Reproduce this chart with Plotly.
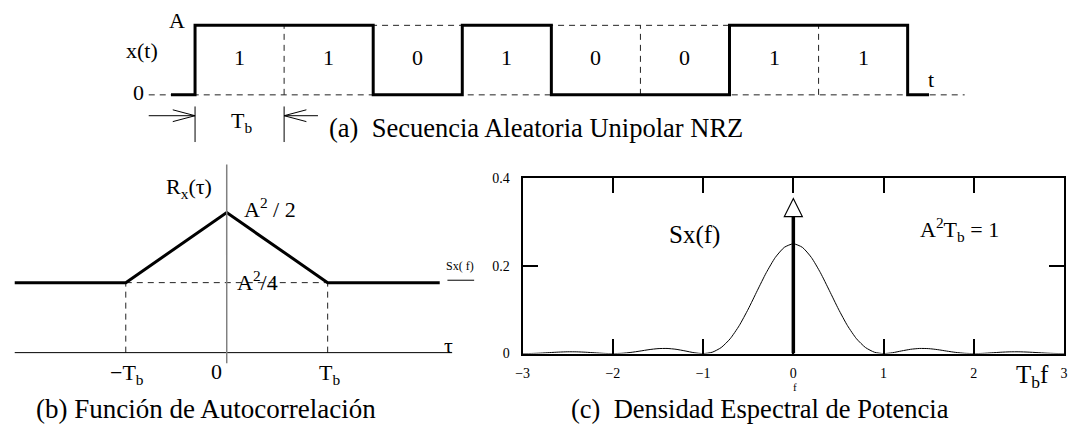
import plotly.graph_objects as go

W, H = 1071, 434
FONT = "Times New Roman, Liberation Serif, serif"

# ---- (a) unipolar NRZ random sequence -------------------------------------
bits = [1, 1, 0, 1, 0, 0, 1, 1]
amp = 1.0                      # level A
t_lead, t_tail = -0.27, 8.24   # flat stretches before / after the bits

# ---- (b) autocorrelation R_x(tau), tau in units of T_b, R in units of A^2 --
tau_pts = [-2.1, -1.0, 0.0, 1.0, 2.11]
r_pts = [0.25, 0.25, 0.5, 0.25, 0.25]

# ---- (c) power spectral density, A^2 T_b = 1 -------------------------------
f_vals = [-3.0, -2.9, -2.8, -2.7, -2.6, -2.5, -2.4, -2.3, -2.2, -2.1,
          -2.0, -1.9, -1.8, -1.7, -1.6, -1.5, -1.4, -1.3, -1.2, -1.1,
          -1.0, -0.9, -0.8, -0.7, -0.6, -0.5, -0.4, -0.3, -0.2, -0.1,
          0.0, 0.1, 0.2, 0.3, 0.4, 0.5, 0.6, 0.7, 0.8, 0.9,
          1.0, 1.1, 1.2, 1.3, 1.4, 1.5, 1.6, 1.7, 1.8, 1.9,
          2.0, 2.1, 2.2, 2.3, 2.4, 2.5, 2.6, 2.7, 2.8, 2.9, 3.0]
s_vals = [0.0, 0.0003, 0.0011, 0.0023, 0.0034, 0.0041, 0.0040, 0.0031, 0.0018, 0.0005,
          0.0, 0.0007, 0.0027, 0.0057, 0.0090, 0.0113, 0.0117, 0.0098, 0.0061, 0.0020,
          0.0, 0.0030, 0.0137, 0.0338, 0.0636, 0.1013, 0.1432, 0.1842, 0.2188, 0.2419,
          0.2500, 0.2419, 0.2188, 0.1842, 0.1432, 0.1013, 0.0636, 0.0338, 0.0137, 0.0030,
          0.0, 0.0020, 0.0061, 0.0098, 0.0117, 0.0113, 0.0090, 0.0057, 0.0027, 0.0007,
          0.0, 0.0005, 0.0018, 0.0031, 0.0040, 0.0041, 0.0034, 0.0023, 0.0011, 0.0003, 0.0]
delta_f = [0.0, 0.0]
delta_s = [0.0, 0.312]
x_ticks = [-3, -2, -1, 0, 1, 2, 3]
x_tick_text = ["\u22123", "\u22122", "\u22121", "0", "1", "2", "3"]
y_ticks = [0, 0.2, 0.4]
y_tick_text = ["0", "0.2", "0.4"]


def P(xpx, ypx):
    """pixel position -> paper coordinates"""
    return xpx / W, 1 - ypx / H


fig = go.Figure()

# (a) waveform
wave_x = [t_lead] + list(range(len(bits) + 1)) + [t_tail]
wave_y = [0] + [b * amp for b in bits] + [0, 0]
fig.add_trace(go.Scatter(x=wave_x, y=wave_y, mode="lines", line_shape="hv",
                         line=dict(color="black", width=3),
                         xaxis="x", yaxis="y", hoverinfo="skip"))

# (b) autocorrelation
fig.add_trace(go.Scatter(x=tau_pts, y=r_pts, mode="lines",
                         line=dict(color="black", width=3),
                         xaxis="x2", yaxis="y2", hoverinfo="skip"))

# (c) spectrum: continuous part and impulse at f = 0
fig.add_trace(go.Scatter(x=f_vals, y=s_vals, mode="lines",
                         line=dict(color="black", width=1, shape="spline", smoothing=0.6),
                         xaxis="x3", yaxis="y3", hoverinfo="skip", cliponaxis=True))
fig.add_trace(go.Scatter(x=delta_f, y=delta_s, mode="lines",
                         line=dict(color="black", width=3.5),
                         xaxis="x3", yaxis="y3", hoverinfo="skip"))

shapes = []
dash = dict(color="#222", width=1, dash="6px,5px")

# (a) dashed guides: baseline, A level, and boundaries between equal bits
shapes.append(dict(type="line", xref="x", yref="y", x0=-0.52, x1=8.64, y0=0, y1=0,
                   line=dash, layer="below"))
shapes.append(dict(type="line", xref="x", yref="y", x0=0, x1=len(bits), y0=amp, y1=amp,
                   line=dash, layer="below"))
for i in range(1, len(bits)):
    if bits[i] == bits[i - 1]:
        shapes.append(dict(type="line", xref="x", yref="y", x0=i, x1=i, y0=0, y1=amp,
                           line=dash, layer="below"))
# T_b dimension marks
thin = dict(color="black", width=1)
for tx in (0, 1):
    shapes.append(dict(type="line", xref="x", yref="y", x0=tx, x1=tx,
                       y0=-0.167, y1=-0.68, line=thin))
ya = -0.30
shapes.append(dict(type="line", xref="x", yref="y", x0=-0.52, x1=0, y0=ya, y1=ya, line=thin))
shapes.append(dict(type="path", xref="x", yref="y",
                   path=f"M {-0.25},{ya + 0.085} L 0,{ya} L {-0.25},{ya - 0.085}", line=thin))
shapes.append(dict(type="line", xref="x", yref="y", x0=1, x1=1.38, y0=ya, y1=ya, line=thin))
shapes.append(dict(type="path", xref="x", yref="y",
                   path=f"M {1.25},{ya + 0.085} L 1,{ya} L {1.25},{ya - 0.085}", line=thin))

# (b) axes and dashed guides
shapes.append(dict(type="line", xref="x2", yref="y2", x0=-2.1, x1=2.235, y0=0, y1=0,
                   line=dict(color="black", width=1)))
shapes.append(dict(type="line", xref="x2", yref="y2", x0=0, x1=0, y0=-0.038, y1=0.672,
                   line=dict(color="#808080", width=1.5)))
shapes.append(dict(type="line", xref="x2", yref="y2", x0=-1, x1=1, y0=0.25, y1=0.25,
                   line=dash, layer="below"))
for tx in (-1, 1):
    shapes.append(dict(type="line", xref="x2", yref="y2", x0=tx, x1=tx, y0=0, y1=0.25,
                       line=dash, layer="below"))

# (c) impulse arrow head (open triangle)
shapes.append(dict(type="path", xref="x3", yref="y3", xsizemode="pixel", ysizemode="pixel",
                   xanchor=0, yanchor=delta_s[-1], path="M -9,0 L 9,0 L 0,18 Z",
                   fillcolor="white", line=dict(color="black", width=1.2)))
# underline of the small axis caption
x0p, y0p = P(445, 283)
x1p, _ = P(472, 283)
shapes.append(dict(type="line", xref="paper", yref="paper", x0=x0p, x1=x1p, y0=y0p, y1=y0p,
                   line=dict(color="black", width=1)))

ann = []


def txt(text, xpx, ypx, size=22, xanchor="center"):
    x, y = P(xpx, ypx)
    ann.append(dict(text=text, x=x, y=y, xref="paper", yref="paper", showarrow=False,
                    xanchor=xanchor, yanchor="middle",
                    font=dict(family=FONT, size=size, color="black")))


# (a) labels
for i, b in enumerate(bits):
    ann.append(dict(text=str(b), x=i + 0.5, y=0.54, xref="x", yref="y", showarrow=False,
                    font=dict(family=FONT, size=22, color="black")))
txt("A", 172, 14)
txt("x(t)", 136, 45)
txt("0", 133, 89)
txt("t", 934, 75)
txt("T<sub>b</sub>", 237, 119)
txt("(a)  Secuencia Aleatoria Unipolar NRZ", 323, 125, size=26.5, xanchor="left")

# (b) labels
txt("R<sub>x</sub>(\u03c4)", 184, 187)
txt("A<sup>2</sup> / 2", 237, 208, xanchor="left")
txt("A<sup>2</sup>/4", 230, 284, xanchor="left")
txt("\u03c4", 446, 351)
txt("\u2212T<sub>b</sub>", 121, 380)
txt("0", 212, 378)
txt("T<sub>b</sub>", 326, 380)
txt("(b) Funci\u00f3n de Autocorrelaci\u00f3n", 201, 416, size=27)

# (c) labels
txt("Sx(f)", 695, 236, size=25)
txt("A<sup>2</sup>T<sub>b</sub> = 1", 962, 230)
txt("T<sub>b</sub>f", 1036, 383, size=25)
txt("Sx( f)", 458, 268, size=12)
txt("f", 796, 394, size=11)
txt("(c)  Densidad Espectral de Potencia", 761, 416, size=26.5)

axis_off = dict(visible=False, showgrid=False, zeroline=False, fixedrange=True)

fig.update_layout(
    width=W, height=H,
    margin=dict(l=0, r=0, t=0, b=0),
    paper_bgcolor="white", plot_bgcolor="rgba(0,0,0,0)",
    showlegend=False,
    font=dict(family=FONT, color="black"),
    xaxis=dict(axis_off, domain=[0, 1], range=[-190 / 90, 881 / 90], anchor="y"),
    yaxis=dict(axis_off, domain=[1 - 140 / H, 1], range=[-49 / 72, 91 / 72], anchor="x"),
    xaxis2=dict(axis_off, domain=[0, 450 / W], range=[-222 / 102, 228 / 102], anchor="y2"),
    yaxis2=dict(axis_off, domain=[0, 1 - 140 / H], range=[-76 / 290, 218 / 290], anchor="x2"),
    xaxis3=dict(domain=[521 / W, 1068 / W], range=[-3, 3], anchor="y3",
                showgrid=False, zeroline=False,
                showline=True, linecolor="black", linewidth=2, mirror="ticks",
                ticks="inside", ticklen=15, tickwidth=2, tickcolor="black",
                tickvals=x_ticks, ticktext=x_tick_text, ticklabelstandoff=6,
                ticklabeloverflow="allow",
                tickfont=dict(family=FONT, size=14, color="black")),
    yaxis3=dict(domain=[1 - 359 / H, 1 - 177 / H], range=[0, 0.4], anchor="x3",
                showgrid=False, zeroline=False,
                showline=True, linecolor="black", linewidth=2, mirror="ticks",
                ticks="inside", ticklen=15, tickwidth=2, tickcolor="black",
                tickvals=y_ticks, ticktext=y_tick_text, ticklabelstandoff=8,
                tickfont=dict(family=FONT, size=14, color="black")),
    shapes=shapes,
    annotations=ann,
)

# the page body gets no default margin so the figure sits at the window origin
fig.write_html("out.html", post_script="document.body.style.margin='0px';")
